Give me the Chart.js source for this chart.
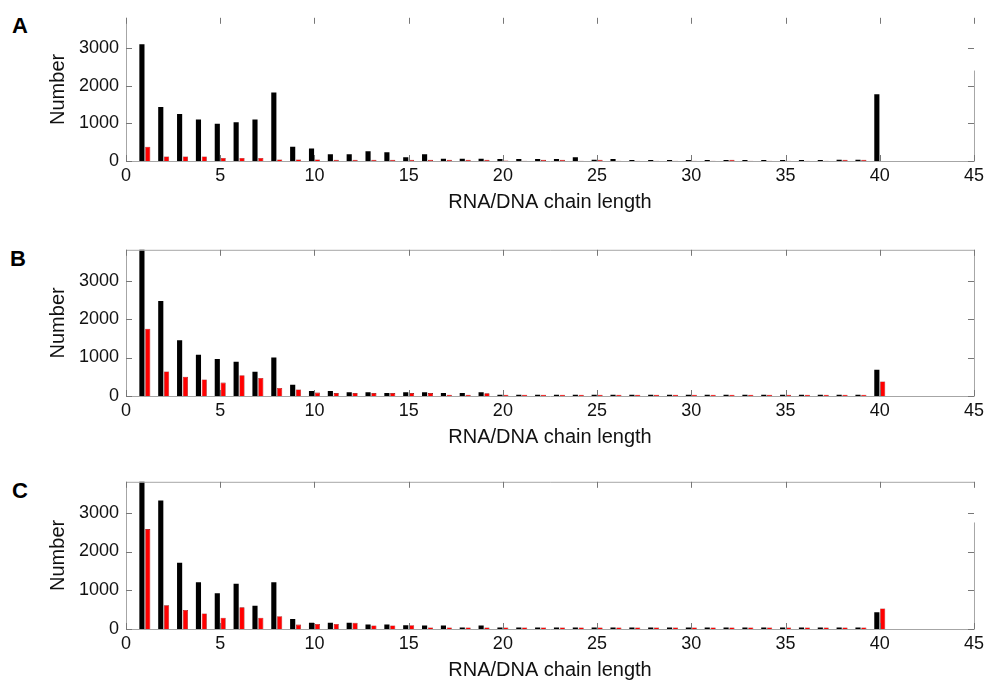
<!DOCTYPE html>
<html>
<head>
<meta charset="utf-8">
<script src="https://cdn.jsdelivr.net/npm/chart.js@4/dist/chart.umd.min.js"></script>
<style>
  html, body { margin: 0; padding: 0; background: #fff; }
  body { width: 988px; height: 683px; position: relative; overflow: hidden; font-family: "Liberation Sans", Arial, sans-serif; }
  .panel { position: absolute; left: 0; width: 988px; }
  .lbl { position: absolute; font-weight: bold; font-size: 22px; color: #000; font-family: "Liberation Sans", Arial, sans-serif; }
</style>
</head>
<body>
<div class="lbl" style="left:12px;top:13px;">A</div>
<div class="lbl" style="left:10px;top:246px;">B</div>
<div class="lbl" style="left:12px;top:478px;">C</div>
<div class="panel" style="top:0px;height:214px;"><canvas id="cA"></canvas></div>
<div class="panel" style="top:232px;height:217px;"><canvas id="cB"></canvas></div>
<div class="panel" style="top:464px;height:218px;"><canvas id="cC"></canvas></div>
<script>
// ---- data ----
const chainLengths = [1,2,3,4,5,6,7,8,9,10,11,12,13,14,15,16,17,18,19,20,21,22,23,24,25,26,27,28,29,30,31,32,33,34,35,36,37,38,39,40];

const blackA = [3100,1430,1250,1100,990,1030,1100,1820,380,335,180,180,260,235,100,180,60,60,60,55,50,50,50,100,30,55,25,25,25,25,25,25,25,25,25,25,25,30,30,1770];
const redA   = [380,120,120,120,80,80,80,40,40,40,30,30,30,30,30,30,30,30,30,10,5,30,30,5,30,5,5,5,5,5,5,30,5,5,5,5,5,30,30,0];

const blackB = [3950,2470,1450,1070,960,890,630,1000,290,130,130,100,100,75,100,100,75,75,100,35,35,35,35,35,35,35,35,35,35,35,35,35,35,35,35,35,35,35,35,680];
const redB   = [1750,640,500,430,350,540,470,210,170,90,75,75,75,75,75,75,35,35,70,35,35,35,35,35,35,35,35,35,35,35,35,35,35,35,35,35,35,35,35,380];

const blackC = [3950,3320,1710,1210,920,1170,600,1210,255,160,160,160,115,115,100,90,90,40,90,40,40,40,40,40,40,40,40,40,40,40,40,40,40,40,40,40,40,40,40,430];
const redC   = [2580,610,490,400,290,560,290,330,115,130,130,160,90,90,100,40,40,40,40,40,40,40,40,40,40,40,40,40,40,40,40,40,40,40,40,40,40,40,40,530];

const xTicks = [0,5,10,15,20,25,30,35,40,45];
const yTicks = [0,1000,2000,3000];
const xTitle = 'RNA/DNA chain length';
const yTitle = 'Number';

// ---- box with inward ticks (MATLAB-like) ----
const boxPlugin = {
  id: 'box',
  afterDraw(chart, args, opts) {
    const {ctx, chartArea: a, scales: {x, y}} = chart;
    ctx.save();
    ctx.lineWidth = 1;
    ctx.strokeStyle = '#a6a6a6';
    ctx.beginPath();
    ctx.moveTo(a.left + 0.5, a.top); ctx.lineTo(a.left + 0.5, a.bottom + 0.5);
    ctx.lineTo(a.right + 0.5, a.bottom + 0.5);
    const rTop = opts.rightFrom != null ? y.getPixelForValue(opts.rightFrom) : a.top;
    ctx.moveTo(a.right + 0.5, a.bottom + 0.5); ctx.lineTo(a.right + 0.5, rTop);
    if (opts.showTop) { ctx.moveTo(a.left, a.top + 0.5); ctx.lineTo(a.right + 0.5, a.top + 0.5); }
    ctx.stroke();
    ctx.strokeStyle = '#777';
    ctx.beginPath();
    const tl = 6;
    xTicks.forEach(v => {
      const px = Math.round(x.getPixelForValue(v)) + 0.5;
      ctx.moveTo(px, a.bottom); ctx.lineTo(px, a.bottom - tl);
      ctx.moveTo(px, a.top); ctx.lineTo(px, a.top + tl);
    });
    yTicks.forEach(v => {
      const py = Math.round(y.getPixelForValue(v)) + 0.5;
      ctx.moveTo(a.left, py); ctx.lineTo(a.left + tl, py);
      ctx.moveTo(a.right, py); ctx.lineTo(a.right - tl, py);
    });
    ctx.stroke();
    ctx.restore();
  }
};

const FONT = '"Liberation Sans", Arial, sans-serif';

function makeChart(id, blackVals, redVals, boxOpts) {
  const toPts = vals => chainLengths.map((c, i) => ({x: c, y: vals[i]}));
  return new Chart(document.getElementById(id), {
    type: 'bar',
    data: {
      datasets: [
        { data: toPts(blackVals), backgroundColor: '#000000', borderWidth: 0,
          categoryPercentage: 0.62, barPercentage: 0.88 },
        { data: toPts(redVals), backgroundColor: '#ff0000', borderColor: '#8a0000', borderWidth: 0.6,
          categoryPercentage: 0.62, barPercentage: 0.88 }
      ]
    },
    options: {
      responsive: true,
      maintainAspectRatio: false,
      animation: false,
      layout: { padding: { top: 12, right: 12, left: 0, bottom: 0 } },
      plugins: { legend: { display: false }, tooltip: { enabled: false }, box: boxOpts },
      scales: {
        x: {
          type: 'linear', min: 0, max: 45, offset: false,
          grid: { display: false, drawTicks: false }, border: { display: false },
          afterBuildTicks: s => { s.ticks = xTicks.map(v => ({value: v})); },
          ticks: { padding: 4, color: '#111', autoSkip: false, maxRotation: 0,
                   callback: v => String(v),
                   font: { family: FONT, size: 18 } },
          title: { display: true, text: xTitle, color: '#111', padding: { top: 0, bottom: 0 },
                   font: { family: FONT, size: 20 } },
          afterFit: s => { s.height = 53; }
        },
        y: {
          min: 0, max: 3800,
          grid: { display: false, drawTicks: false }, border: { display: false },
          afterBuildTicks: s => { s.ticks = yTicks.map(v => ({value: v})); },
          ticks: { padding: 7, color: '#111', autoSkip: false,
                   callback: v => String(v),
                   font: { family: FONT, size: 18 } },
          title: { display: true, text: yTitle, color: '#111', padding: { top: 46, bottom: 0 },
                   font: { family: FONT, size: 20 } },
          afterFit: s => { s.width = 126; }
        }
      }
    },
    plugins: [boxPlugin]
  });
}

makeChart('cA', blackA, redA, { showTop: false, rightFrom: 2400 });
makeChart('cB', blackB, redB, { showTop: true, rightFrom: null });
makeChart('cC', blackC, redC, { showTop: true, rightFrom: 2750 });
</script>
</body>
</html>
